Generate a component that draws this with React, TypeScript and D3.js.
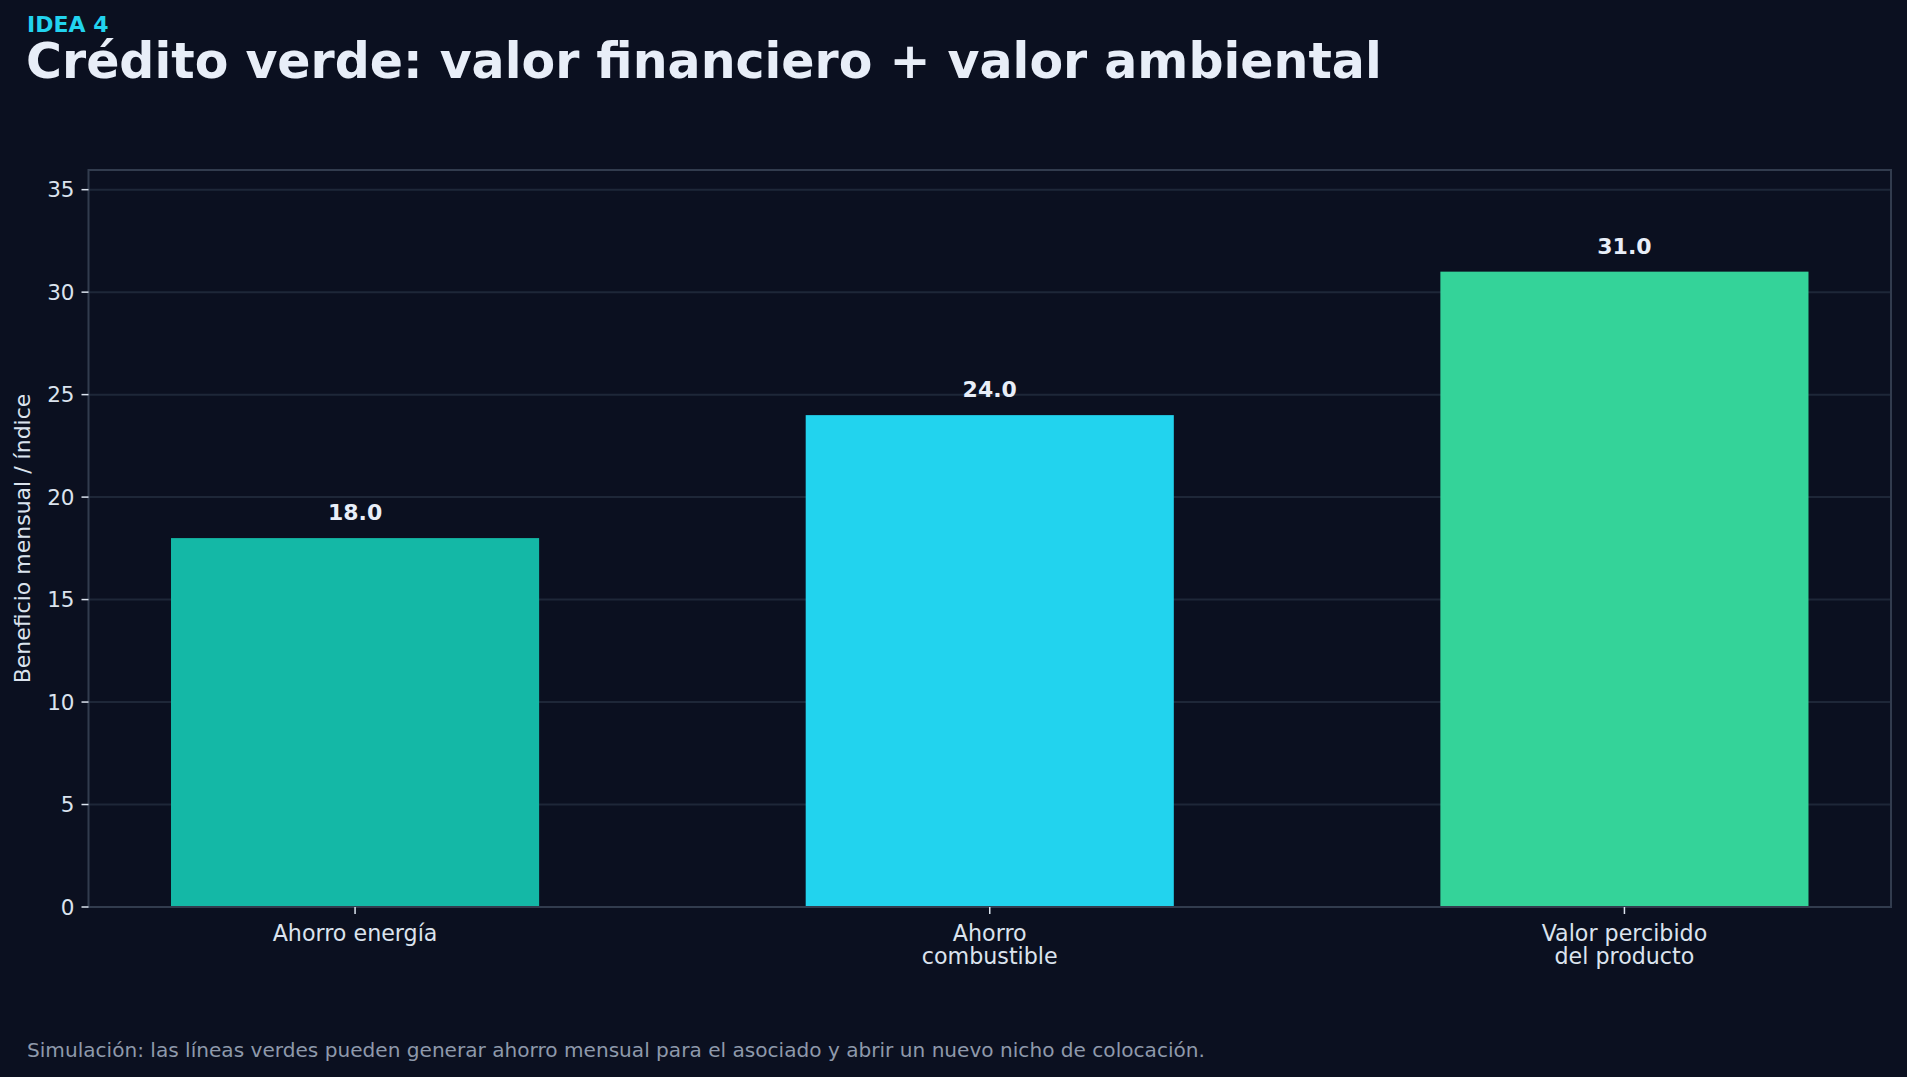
import React, { useEffect } from 'react';
import * as d3 from 'd3';

const categories = ['Ahorro energía', 'Ahorro\ncombustible', 'Valor percibido\ndel producto'];
const values = [18, 24, 31];
const barColors = ['#14b8a6', '#22d3ee', '#34d399'];
const yTicks = [0, 5, 10, 15, 20, 25, 30, 35];

const W = 1907;
const H = 1077;
const BG = '#0b1020';
const FONT = '"DejaVu Sans", sans-serif';

const App: React.FC = () => {
    useEffect(() => {
        document.body.style.margin = '0';
        document.body.style.background = BG;
    }, []);

    const left = 88.5;
    const right = 1891;
    const top = 170;
    const bottom = 907;

    const x = d3.scaleBand<string>()
        .domain(categories)
        .range([left, right])
        .paddingInner(0.42)
        .paddingOuter(0.13);

    const y = d3.scaleLinear()
        .domain([0, 35.96])
        .range([bottom, top]);

    return (
        <svg width={W} height={H} style={{ display: 'block', background: BG }} fontFamily={FONT}>
            <rect x={0} y={0} width={W} height={H} fill={BG} />

            {/* heading */}
            <text x={27} y={31.5} fill="#22d3ee" fontSize={22} fontWeight="bold">IDEA 4</text>
            <text x={26} y={78} fill="#e8eef8" fontSize={49} fontWeight="bold">
                Crédito verde: valor financiero + valor ambiental
            </text>

            {/* grid */}
            {yTicks.map(t => (
                <line key={'g' + t} x1={left} x2={right} y1={y(t)} y2={y(t)} stroke="#1e2738" strokeWidth={2} />
            ))}

            {/* bars */}
            {categories.map((c, i) => (
                <rect key={c} x={x(c)} y={y(values[i])} width={x.bandwidth()}
                    height={y(0) - y(values[i])} fill={barColors[i]} />
            ))}

            {/* value labels */}
            {categories.map((c, i) => (
                <text key={'v' + c} x={(x(c) ?? 0) + x.bandwidth() / 2} y={y(values[i]) - 18}
                    textAnchor="middle" fill="#e8eef8" fontSize={22} fontWeight="bold">
                    {values[i].toFixed(1)}
                </text>
            ))}

            {/* frame */}
            <rect x={left} y={top} width={right - left} height={bottom - top}
                fill="none" stroke="#323c4e" strokeWidth={2} />

            {/* y axis */}
            {yTicks.map(t => (
                <g key={'y' + t}>
                    <line x1={left - 7} x2={left} y1={y(t)} y2={y(t)} stroke="#dbe3ee" strokeWidth={1.5} />
                    <text x={left - 14} y={y(t)} dy="0.36em" textAnchor="end" fill="#dbe3ee" fontSize={21.5}>{t}</text>
                </g>
            ))}
            <text transform={`translate(30, ${(top + bottom) / 2}) rotate(-90)`} textAnchor="middle"
                fill="#dbe3ee" fontSize={22}>Beneficio mensual / índice</text>

            {/* x axis */}
            {categories.map(c => {
                const cx = (x(c) ?? 0) + x.bandwidth() / 2;
                return (
                    <g key={'x' + c}>
                        <line x1={cx} x2={cx} y1={bottom} y2={bottom + 7} stroke="#dbe3ee" strokeWidth={1.5} />
                        {c.split('\n').map((line, j) => (
                            <text key={j} x={cx} y={941 + j * 22.5} textAnchor="middle" fill="#dbe3ee" fontSize={22.2}>{line}</text>
                        ))}
                    </g>
                );
            })}

            {/* footnote */}
            <text x={27} y={1057} fill="#8e99ab" fontSize={20.1}>
                Simulación: las líneas verdes pueden generar ahorro mensual para el asociado y abrir un nuevo nicho de colocación.
            </text>
        </svg>
    );
};

export default App;
